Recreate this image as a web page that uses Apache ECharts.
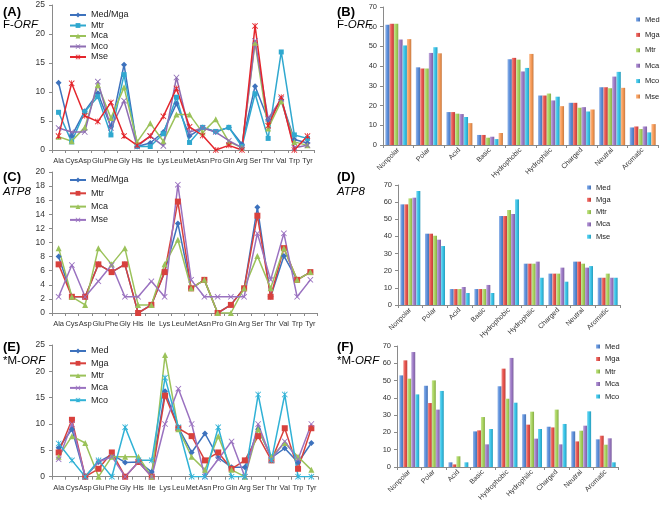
<!DOCTYPE html>
<html><head><meta charset="utf-8">
<script src="https://cdn.jsdelivr.net/npm/echarts@6/dist/echarts.min.js"></script>
<style>html,body{margin:0;padding:0;background:#fff}#c{width:661px;height:507px}</style>
</head><body><div id="c"></div>
<script>
// ---- categories ----
const aminoAcids = ['Ala','Cys','Asp','Glu','Phe','Gly','His','Ile','Lys','Leu','Met','Asn','Pro','Gln','Arg','Ser','Thr','Val','Trp','Tyr'];
const groups = ['Nonpolar','Polar','Acid','Basic','Hydrophobic','Hydrophilic','Charged','Neutral','Aromatic'];
const lineTicks25 = [0,5,10,15,20,25];
const lineTicks20 = [0,2,4,6,8,10,12,14,16,18,20];
const barTicks = [0,10,20,30,40,50,60,70];

// ---- (A) F-ORF amino acid usage ----
const fOrfMedMga = [11.6,2.4,6.7,9.8,4.0,14.7,0.6,1.2,3.1,8.0,2.4,3.9,3.1,3.9,1.0,11.0,5.2,8.6,1.8,1.2];
const fOrfMtr    = [6.5,1.4,6.6,9.2,2.6,13.0,0.6,0.6,2.8,9.1,1.3,3.9,3.2,3.9,0.6,9.7,2.0,16.9,2.6,2.0];
const fOrfMca    = [2.3,1.5,3.9,11.2,5.5,10.8,1.4,4.6,1.5,6.1,6.1,3.0,5.3,1.4,0.4,18.5,3.7,8.4,1.4,0.8];
const fOrfMco    = [3.8,3.1,3.1,11.8,3.8,8.5,0.6,2.4,0.7,12.5,3.1,3.8,3.1,1.6,0.4,18.8,5.4,8.8,0.4,0.8];
const fOrfMse    = [2.4,11.5,5.9,4.9,8.2,2.4,0.8,2.4,5.8,10.6,4.0,2.5,0,0.8,0,21.4,4.2,9.1,0,2.4];

// ---- (B) F-ORF groups ----
const fGrpMed = [61.0,39.4,16.7,5.1,43.5,25.1,21.4,29.3,8.9];
const fGrpMga = [61.5,38.8,16.7,5.1,44.2,25.1,21.4,29.3,9.4];
const fGrpMtr = [61.5,38.8,15.9,3.7,43.3,26.1,18.9,28.8,8.1];
const fGrpMca = [53.5,46.7,15.7,4.2,37.3,22.6,19.2,34.7,9.4];
const fGrpMco = [50.5,49.6,14.2,3.0,39.1,24.5,17.0,37.1,6.4];
const fGrpMse = [53.7,46.5,11.1,6.1,46.2,19.7,18.0,29.0,10.6];

// ---- (C) ATP8 amino acid usage ----
const atpMedMga = [8.0,2.3,2.3,6.9,5.8,6.9,0,1.15,5.8,12.7,3.5,4.7,0,1.15,3.5,15.0,2.3,8.1,4.7,5.8];
const atpMtr    = [6.9,2.3,2.3,6.9,5.8,6.9,0,1.15,5.8,15.8,3.5,4.7,0,1.15,3.5,13.8,2.3,9.2,4.7,5.8];
const atpMca    = [9.2,2.3,1.15,9.2,6.9,9.2,1.15,1.15,6.9,10.4,3.5,4.7,0,0,3.5,8.1,3.5,9.2,4.7,5.8];
const atpMse    = [2.3,6.8,2.3,4.5,6.8,2.3,2.3,4.5,2.3,18.2,4.7,2.3,2.3,2.3,2.3,11.3,4.7,11.3,2.3,4.7];

// ---- (D) ATP8 groups ----
const aGrpMed = [58.7,41.6,9.3,9.3,51.9,24.1,18.3,25.3,15.9];
const aGrpMga = [58.7,41.6,9.3,9.3,51.9,24.1,18.3,25.3,15.9];
const aGrpMtr = [62.2,40.4,9.3,9.3,55.4,24.1,18.3,24.1,18.3];
const aGrpMca = [62.6,38.1,10.5,11.7,53.1,25.3,21.8,21.8,15.9];
const aGrpMse = [66.5,34.4,7.0,7.0,61.6,15.9,13.6,22.7,15.9];

// ---- (E) *M-ORF amino acid usage ----
const mOrfMed = [5.5,9.0,0,2.8,4.2,2.7,2.8,0.9,16.2,9.3,4.6,8.2,3.6,1.8,1.8,9.0,3.6,5.4,2.7,6.4];
const mOrfMga = [4.6,10.8,0,1.5,4.6,0,2.8,0,15.4,9.2,7.7,3.1,4.6,1.5,3.1,7.7,3.1,9.2,1.5,9.2];
const mOrfMtr = [3.8,7.7,6.4,0,3.8,3.8,3.8,0,23.1,9.0,3.8,1.3,7.7,1.3,0,9.0,3.8,6.4,3.8,1.3];
const mOrfMca = [3.3,10.0,0,2.8,3.8,0,2.8,0,10.0,16.7,10.0,0,3.3,6.7,0,10.0,3.3,6.7,3.3,10.0];
const mOrfMco = [6.3,3.1,0,3.1,0,9.4,3.1,3.1,18.8,9.4,0,0,9.4,0,0,15.6,3.1,15.6,0,0];

// ---- (F) *M-ORF groups ----
const mGrpMed = [53.0,47.0,2.7,20.6,46.7,30.5,23.3,20.6,16.0];
const mGrpMga = [61.7,37.0,1.5,21.2,56.9,24.5,22.9,14.8,18.1];
const mGrpMtr = [51.1,50.1,6.2,28.9,39.5,32.0,33.2,21.0,12.9];
const mGrpMca = [66.5,33.2,0,13.1,63.1,16.4,13.1,23.9,16.6];
const mGrpMco = [42.0,44.0,2.7,22.0,37.2,22.0,24.9,32.2,2.7];

// ---------------- styling / layout ----------------
const FONT = 'Liberation Sans';
const C = {blue:'#3D72BD', teal:'#2FA8CF', green:'#9BC25A', purple:'#8E6DB3', red:'#E4262C', red2:'#D8413D', cyan:'#31B2D6'};
const SYM = {
  diamond:'diamond', square:'rect', triangle:'triangle',
  x:'path://M0,1L1,0L5,4L9,0L10,1L6,5L10,9L9,10L5,6L1,10L0,9L4,5Z',
  star:'path://M0,1L1,0L5,4L9,0L10,1L6,5L10,9L9,10L5,6L1,10L0,9L4,5ZM4.4,0L5.6,0L5.6,10L4.4,10Z'
};
const barCol = {Med:'#5B8EDB', Mga:'#E8524C', Mtr:'#A8D45C', Mca:'#9C79C6', Mco:'#36C3E8', Mse:'#F89A55'};
function shade(hex, f){
  const n=parseInt(hex.slice(1),16); let r=n>>16,g=(n>>8)&255,b=n&255;
  const m=v=>Math.max(0,Math.min(255,Math.round(f>0? v+(255-v)*f : v*(1+f))));
  return 'rgb('+m(r)+','+m(g)+','+m(b)+')';
}
function grad(hex){
  return new echarts.graphic.LinearGradient(0,0,1,0,[
    {offset:0,color:shade(hex,0.35)},{offset:0.5,color:hex},{offset:1,color:shade(hex,-0.2)}]);
}

const grids = [
  {left:52, top:5, width:262, height:145},
  {left:383, top:7, width:275, height:138},
  {left:52, top:172, width:265, height:141},
  {left:398, top:185, width:222, height:120},
  {left:52, top:345, width:266, height:131.7},
  {left:397, top:346, width:221, height:121}
];
const axisLine = {show:true, lineStyle:{color:'#8a8a8a', width:1}};
const xAxes = [], yAxes = [];
grids.forEach((g,i)=>{
  const isBar = (i%2===1);
  xAxes.push({type:'category', gridIndex:i, data: isBar? groups : aminoAcids,
    axisLine, axisTick:{show:true, length:3, lineStyle:{color:'#8a8a8a'}},
    axisLabel: isBar ? {interval:0, rotate:45, fontSize:7, color:'#333', margin:4, fontFamily:FONT}
                     : {interval:0, fontSize:7.5, color:'#333', margin:7, fontFamily:FONT},
    splitLine:{show:false}});
  const ticks = isBar ? barTicks : (i===2 ? lineTicks20 : lineTicks25);
  yAxes.push({type:'value', gridIndex:i, min:ticks[0], max:ticks[ticks.length-1], interval:ticks[1]-ticks[0],
    axisLine, axisTick:{show:true, length:3, lineStyle:{color:'#8a8a8a'}},
    axisLabel:{fontSize: isBar?7.5:8.5, color:'#333', margin: isBar?6:7, fontFamily:FONT},
    splitLine:{show:false}});
});

const series = [];
function lineS(panel, idx, name, data, color, symbol, size){
  series.push({type:'line', name: panel+':'+name, xAxisIndex:idx, yAxisIndex:idx, data,
    color, symbol, symbolSize:size||5, showAllSymbol:true,
    lineStyle:{width:1.5, color}, itemStyle:{color}, animation:false});
}
function barS(panel, idx, name, data, gap, colKey){
  const c = barCol[colKey||name];
  series.push({type:'bar', name: panel+':'+name, xAxisIndex:idx, yAxisIndex:idx, data,
    barGap:'0%', barCategoryGap:gap, color:c, itemStyle:{color:grad(c)}, animation:false});
}
// A
lineS('A',0,'Med/Mga',fOrfMedMga,C.blue,SYM.diamond,6);
lineS('A',0,'Mtr',fOrfMtr,C.teal,SYM.square,5);
lineS('A',0,'Mca',fOrfMca,C.green,SYM.triangle,6);
lineS('A',0,'Mco',fOrfMco,C.purple,SYM.x,6);
lineS('A',0,'Mse',fOrfMse,C.red,SYM.star,6);
// B
barS('B',1,'Med',fGrpMed,'15%'); barS('B',1,'Mga',fGrpMga,'15%'); barS('B',1,'Mtr',fGrpMtr,'15%');
barS('B',1,'Mca',fGrpMca,'15%'); barS('B',1,'Mco',fGrpMco,'15%'); barS('B',1,'Mse',fGrpMse,'15%');
// C
lineS('C',2,'Med/Mga',atpMedMga,C.blue,SYM.diamond,6);
lineS('C',2,'Mtr',atpMtr,C.red2,SYM.square,6);
lineS('C',2,'Mca',atpMca,C.green,SYM.triangle,6);
lineS('C',2,'Mse',atpMse,'#9A72C0',SYM.x,6);
// D
barS('D',3,'Med',aGrpMed,'19%'); barS('D',3,'Mga',aGrpMga,'19%'); barS('D',3,'Mtr',aGrpMtr,'19%');
barS('D',3,'Mca',aGrpMca,'19%'); barS('D',3,'Mse',aGrpMse,'19%','Mco');
// E
lineS('E',4,'Med',mOrfMed,C.blue,SYM.diamond,6);
lineS('E',4,'Mga',mOrfMga,C.red2,SYM.square,6);
lineS('E',4,'Mtr',mOrfMtr,C.green,SYM.triangle,6);
lineS('E',4,'Mca',mOrfMca,'#9A72C0',SYM.x,6);
lineS('E',4,'Mco',mOrfMco,C.cyan,SYM.star,6);
// F
barS('F',5,'Med',mGrpMed,'19%'); barS('F',5,'Mga',mGrpMga,'19%'); barS('F',5,'Mtr',mGrpMtr,'19%');
barS('F',5,'Mca',mGrpMca,'19%'); barS('F',5,'Mco',mGrpMco,'19%');

const stripName = n => n.split(':')[1];
function lineLegend(panel, names, top, gap){
  return {orient:'vertical', left:69, top, padding:0, itemWidth:16, itemHeight:6, itemGap:gap,
    data:names.map(n=>panel+':'+n), formatter:stripName,
    textStyle:{fontSize:9, color:'#222', fontFamily:FONT, lineHeight:10}};
}
function barLegend(panel, names, left, top, gap){
  return {orient:'vertical', left, top, padding:0, icon:'rect', itemWidth:4, itemHeight:4, itemGap:gap,
    data:names.map(n=>panel+':'+n), formatter:stripName,
    textStyle:{fontSize:7.5, color:'#222', fontFamily:FONT, lineHeight:9}};
}
function panelTitle(letter, left, top, top2, label){
  return [{text:'('+letter+')', left, top, padding:0, textStyle:{fontSize:13, fontWeight:'bold', color:'#000', fontFamily:FONT}},
          {text:label, left, top:top2, padding:0, textStyle:{fontSize:11.5, fontWeight:'normal', color:'#000', fontFamily:FONT,
            rich:{n:{fontSize:11.5, fontFamily:FONT, color:'#000'}, i:{fontSize:11.5, fontStyle:'italic', fontFamily:FONT, color:'#000'}}}}];
}

const option = {
  backgroundColor:'#fff',
  animation:false,
  textStyle:{fontFamily:FONT},
  title:[].concat(
    panelTitle('A',3,6,19,'{n|F-}{i|ORF}'),
    panelTitle('B',337,6,19,'{n|F-}{i|ORF}'),
    panelTitle('C',3,171,186,'{i|ATP8}'),
    panelTitle('D',337,171,186,'{i|ATP8}'),
    panelTitle('E',3,341,355,'{n|*M-}{i|ORF}'),
    panelTitle('F',337,341,355,'{n|*M-}{i|ORF}')
  ),
  legend:[
    lineLegend('A',['Med/Mga','Mtr','Mca','Mco','Mse'],10,0.5),
    barLegend('B',['Med','Mga','Mtr','Mca','Mco','Mse'],636,15,6.4),
    lineLegend('C',['Med/Mga','Mtr','Mca','Mse'],175,3.3),
    barLegend('D',['Med','Mga','Mtr','Mca','Mse'],587,183,3.3),
    lineLegend('E',['Med','Mga','Mtr','Mca','Mco'],346,2.3),
    barLegend('F',['Med','Mga','Mtr','Mca','Mco'],596,342,3.5)
  ],
  grid:grids,
  xAxis:xAxes,
  yAxis:yAxes,
  series
};
const chart = echarts.init(document.getElementById('c'), null, {renderer:'canvas'});
chart.setOption(option);
</script></body></html>
